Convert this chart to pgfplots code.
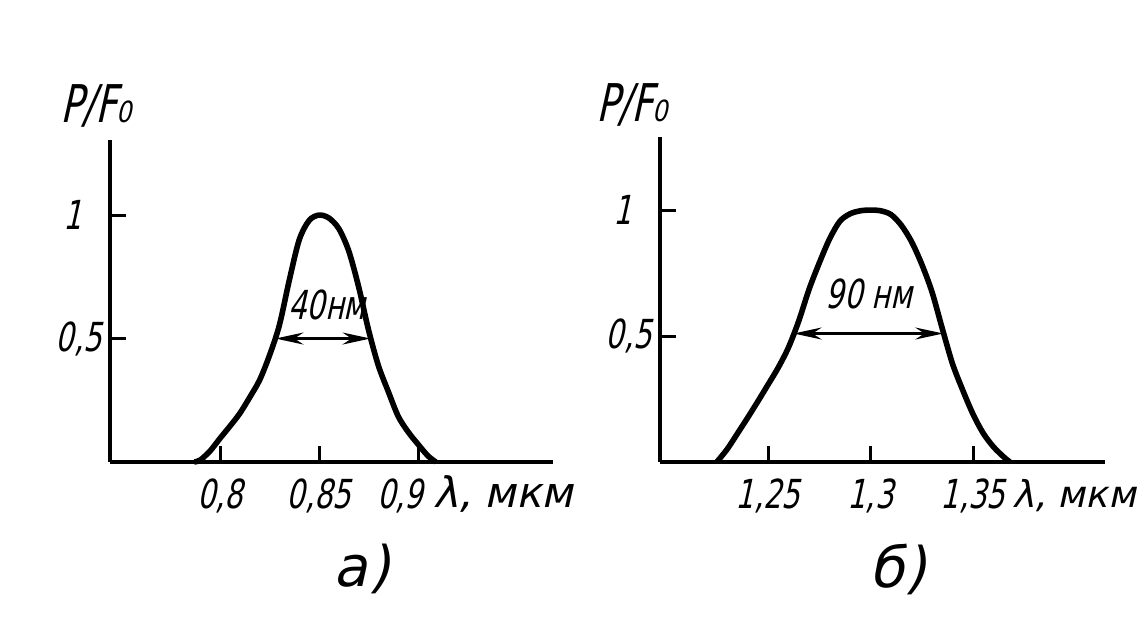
\documentclass[border=0pt]{standalone}
\usepackage{fontspec}
\setmainfont{DejaVu Sans}[FakeStretch=0.72,FakeSlant=0.22]
\newfontfamily\widefont{DejaVu Sans}[FakeSlant=0.22]
\usepackage{pgfplots}
\pgfplotsset{compat=1.18}
\usetikzlibrary{arrows.meta}

\pgfplotsset{gost/.style={
  scale only axis, axis lines=left,
  axis line style={-, line width=2pt},
  tick align=inside, major tick length=8pt,
  tick style={line width=1.5pt, black},
  ticklabel style={font=\fontsize{20}{20}\selectfont},
  xticklabel style={anchor=north, inner sep=0pt, yshift=-8pt},
  yticklabel style={anchor=east, inner sep=0pt, xshift=-4pt},
  ytick={0.5,1}, yticklabels={0{,}5,1\hspace{10pt}\null},
  ymin=0, clip=false}}

\begin{document}
\begin{tikzpicture}
\path[use as bounding box] (0,0) rectangle (571pt,316pt);

\begin{axis}[gost, at={(55pt,85pt)}, anchor=south west,
  width=221.5pt, height=161pt,
  xmin=0.7444, xmax=0.9682, ymax=1.304,
  xtick={0.8,0.85,0.9}, xticklabels={0{,}8,0{,}85,0{,}9\hspace{18pt}\null}]
\addplot[black, line width=2.8pt, smooth] coordinates {
(0.787,0) (0.790,0.008) (0.795,0.045) (0.800,0.096) (0.805,0.145)
(0.810,0.197) (0.815,0.262) (0.820,0.332) (0.825,0.432) (0.830,0.555)
(0.835,0.737) (0.840,0.900) (0.845,0.978) (0.850,1.000) (0.855,0.988)
(0.860,0.945) (0.865,0.855) (0.870,0.710) (0.875,0.535) (0.880,0.390)
(0.885,0.285) (0.890,0.185) (0.895,0.122) (0.900,0.072) (0.905,0.025)
(0.909,0)};
\draw[{Stealth[length=14pt,width=6pt]}-{Stealth[length=14pt,width=6pt]}, line width=1.2pt]
  (axis cs:0.8280,0.5) -- (axis cs:0.8760,0.5);
\end{axis}

\begin{axis}[gost, at={(330pt,85pt)}, anchor=south west,
  width=222.5pt, height=162.5pt,
  xmin=1.1973, xmax=1.4144, ymax=1.29,
  xtick={1.25,1.3,1.35}, xticklabels={1{,}25,1{,}3,1{,}35}]
\addplot[black, line width=2.8pt, smooth] coordinates {
(1.225,0) (1.230,0.050) (1.235,0.112) (1.240,0.175) (1.245,0.240)
(1.250,0.307) (1.255,0.375) (1.260,0.455) (1.265,0.560) (1.270,0.685)
(1.275,0.790) (1.280,0.885) (1.285,0.955) (1.290,0.985) (1.295,0.997)
(1.300,1.000) (1.305,0.997) (1.310,0.982) (1.315,0.940) (1.320,0.875)
(1.325,0.785) (1.330,0.675) (1.335,0.530) (1.340,0.390) (1.345,0.285)
(1.350,0.190) (1.355,0.114) (1.360,0.060) (1.365,0.020) (1.368,0)};
\draw[{Stealth[length=14pt,width=6pt]}-{Stealth[length=14pt,width=6pt]}, line width=1.2pt]
  (axis cs:1.2625,0.51) -- (axis cs:1.3355,0.51);
\end{axis}

% axis titles
\node[font=\fontsize{26}{26}\selectfont] at (48pt,263pt) {P/F₀};
\node[font=\fontsize{26}{26}\selectfont] at (316pt,263.5pt) {P/F₀};
\node[font=\widefont\fontsize{21}{21}\selectfont, anchor=base west, inner sep=0pt] at (216.5pt,62pt) {λ, мкм};
\node[font=\widefont\fontsize{18.5}{18.5}\selectfont, anchor=base west, inner sep=0pt] at (506pt,62pt) {λ, мкм};
% annotations
\node[font=\fontsize{20}{20}\selectfont] at (163.5pt,163.5pt) {40нм};
\node[font=\fontsize{20}{20}\selectfont] at (434.5pt,169pt) {90 нм};
% panel labels
\node[font=\widefont\fontsize{28}{28}\selectfont] at (181pt,31.5pt) {а)};
\node[font=\widefont\fontsize{28}{28}\selectfont] at (449pt,31.5pt) {б)};
\end{tikzpicture}
\end{document}
